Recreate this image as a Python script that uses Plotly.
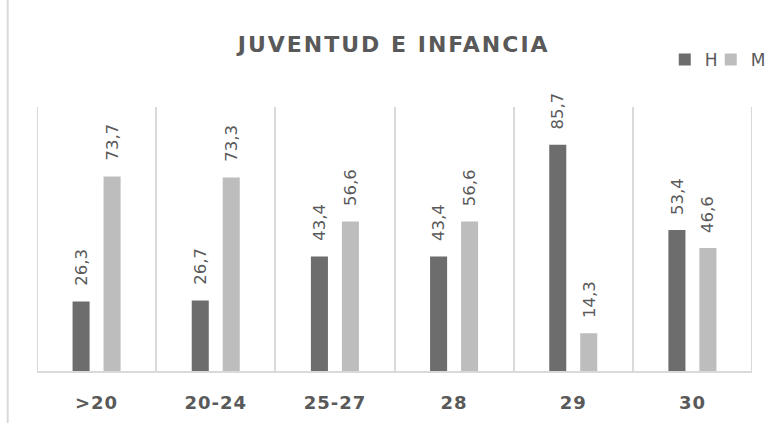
import plotly.graph_objects as go

# Age groups and percentage shares by sex
categories = [">20", "20-24", "25-27", "28", "29", "30"]
hombres = [26.3, 26.7, 43.4, 43.4, 85.7, 53.4]
mujeres = [73.7, 73.3, 56.6, 56.6, 14.3, 46.6]
series_names = ["H", "M"]

DARK = "#6d6d6d"
LIGHT = "#bdbdbd"
TEXT = "#595959"
GRID = "#d9d9d9"

def fmt(v):
    return f"{v:.1f}".replace(".", ",")

fig = go.Figure()
fig.add_trace(go.Bar(x=categories, y=hombres, name=series_names[0],
                     legendwidth=1,
                     marker=dict(color=DARK, line=dict(width=0))))
fig.add_trace(go.Bar(x=categories, y=mujeres, name=series_names[1],
                     legendwidth=24,
                     marker=dict(color=LIGHT, line=dict(width=0))))

# Rotated value labels above each bar (x given as category index)
annotations = []
for vals, shift in ((hombres, -15.5), (mujeres, 15.5)):
    for i, v in enumerate(vals):
        annotations.append(dict(
            x=i, y=v, xref="x", yref="y", text=fmt(v), showarrow=False,
            textangle=-90, xanchor="center", yanchor="middle",
            xshift=shift, yshift=34,
            font=dict(family="DejaVu Sans", size=16.5, color=TEXT)))

# Outer boundary lines of the category band plus the chart-area border
n = len(categories)
shapes = [dict(type="line", xref="x", yref="y", x0=b, x1=b, y0=0, y1=100,
               line=dict(color=GRID, width=2), layer="below")
          for b in (-0.5, n - 0.5)]
shapes.append(dict(type="line", xref="paper", yref="paper",
                   x0=-0.041, x1=-0.041, y0=-0.25, y1=1.45,
                   line=dict(color=GRID, width=2)))

fig.update_layout(
    width=775, height=423,
    margin=dict(l=37, r=23, t=107, b=52, autoexpand=False),
    paper_bgcolor="white", plot_bgcolor="white",
    barmode="group", bargap=0.48, bargroupgap=0.45,
    title=dict(text="<b>JUVENTUD E INFANCIA</b>", x=0.508, xanchor="center",
               y=0.895, yanchor="middle",
               font=dict(family="DejaVu Sans", size=22, color=TEXT)),
    legend=dict(orientation="h", x=0.878, xanchor="left", y=1.178,
                yanchor="middle",
                font=dict(family="DejaVu Sans", size=17, color=TEXT),
                itemwidth=30, bgcolor="rgba(0,0,0,0)", borderwidth=0,
                traceorder="normal"),
    xaxis=dict(type="category", range=[-0.5, n - 0.5],
               tickson="boundaries", showgrid=True,
               gridcolor=GRID, gridwidth=2, showline=True, linecolor=GRID,
               linewidth=2, ticks="", ticklabelstandoff=14,
               tickfont=dict(family="DejaVu Sans", size=18, color=TEXT,
                             weight="bold"),
               zeroline=False),
    yaxis=dict(range=[0, 100], visible=False, showgrid=False, zeroline=False),
    annotations=annotations,
    shapes=shapes,
)

# Spaced lettering for the title and category labels
post = """
document.querySelectorAll('.gtitle').forEach(function(e){e.style.letterSpacing='2px';});
document.querySelectorAll('.xtick text').forEach(function(e){e.style.letterSpacing='1px';});
"""
fig.write_html("out.html", post_script=post)
